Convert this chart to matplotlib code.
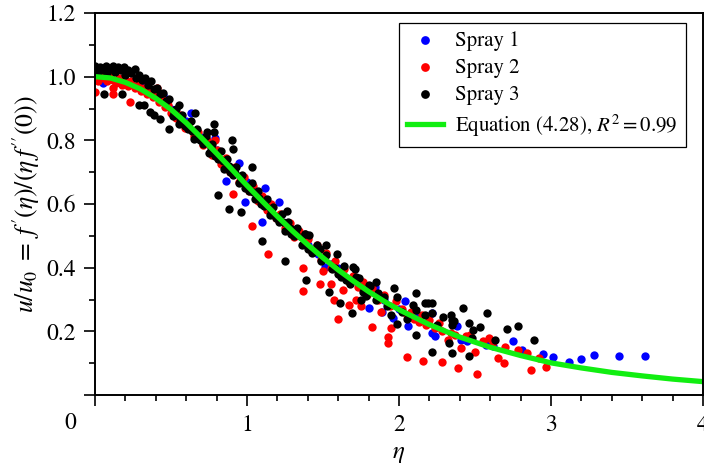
import matplotlib
matplotlib.use('Agg')
import matplotlib.pyplot as plt

plt.rcParams['font.family'] = ['STIXGeneral', 'DejaVu Serif']
plt.rcParams['mathtext.fontset'] = 'stix'

# fitted curve, Equation (4.28)
fit_eta = [0.0, 0.1, 0.2, 0.3, 0.4, 0.5, 0.6, 0.7, 0.8, 0.9, 1.0, 1.1, 1.2, 1.3, 1.4,
           1.5, 1.6, 1.7, 1.8, 1.9, 2.0, 2.2, 2.4, 2.6, 2.8, 3.0, 3.2, 3.4, 3.6, 3.8, 4.0]
fit_u = [1.0, 0.996, 0.982, 0.961, 0.932, 0.897, 0.855, 0.808, 0.759, 0.709, 0.658,
         0.609, 0.561, 0.515, 0.472, 0.431, 0.393, 0.358, 0.325, 0.295, 0.268, 0.221,
         0.182, 0.150, 0.124, 0.101, 0.085, 0.071, 0.060, 0.050, 0.042]

# Spray 1
blue_eta = [0.05, 0.45, 0.63, 0.79, 0.95, 0.86, 1.12, 1.21, 0.99, 1.10, 1.47, 1.51, 1.84,
            1.80, 1.89, 1.96, 2.06, 2.04, 2.12, 2.22, 2.24, 2.38, 2.57, 2.62, 2.75, 2.81,
            2.45, 2.41, 2.22, 2.95, 3.01, 3.12, 3.20, 3.28, 3.45, 3.62,
            0.10, 0.20, 0.30, 0.40, 0.50, 0.60, 0.70, 0.80, 0.90, 1.00, 1.05, 1.15, 1.25,
            1.30, 1.35, 1.40, 1.55, 1.60, 1.70, 1.75, 1.90, 2.00]
blue_u = [0.981, 0.943, 0.887, 0.808, 0.728, 0.673, 0.651, 0.607, 0.607, 0.544, 0.443,
          0.403, 0.340, 0.274, 0.261, 0.242, 0.217, 0.294, 0.252, 0.258, 0.186, 0.217,
          0.157, 0.154, 0.170, 0.140, 0.170, 0.173, 0.195, 0.129, 0.119, 0.104, 0.113,
          0.126, 0.123, 0.123,
          1.0, 0.99, 0.97, 0.95, 0.90, 0.86, 0.81, 0.77, 0.71, 0.67, 0.64, 0.59, 0.54,
          0.51, 0.50, 0.47, 0.41, 0.40, 0.36, 0.34, 0.30, 0.27]

# Spray 2
red_eta = [0.00, 0.02, 0.04, 0.06, 0.08, 0.10, 0.12, 0.14, 0.16, 0.18, 0.20, 0.22, 0.24,
           0.26, 0.28, 0.30, 0.32, 0.34, 0.36, 0.38, 0.40, 0.42, 0.44, 0.46, 0.48, 0.50,
           0.53, 0.56, 0.59, 0.62, 0.65, 0.68, 0.71, 0.74, 0.77, 0.80, 0.83, 0.86, 0.89,
           0.92, 0.95, 0.98, 1.01, 1.04, 1.07, 1.10, 1.13, 1.16, 1.19, 1.22, 1.25, 1.28,
           1.31, 1.34, 1.37, 1.40, 1.43, 1.46, 1.49, 1.52, 1.55, 1.58, 1.61, 1.64, 1.67,
           1.70, 1.73, 1.76, 1.79, 1.82, 1.86, 1.90, 1.94, 1.98,
           0.00, 0.12, 0.12, 0.23, 0.41, 0.79, 0.91, 1.03, 1.14, 1.37, 1.37, 1.60, 1.82,
           1.95, 1.93, 1.93, 1.48, 1.57, 1.67, 2.05, 2.16, 2.28, 2.39, 2.51, 2.69, 2.87,
           2.97, 2.92, 2.84, 2.78, 2.70, 2.65, 2.59, 2.50, 2.41, 2.32, 2.34,
           2.02, 2.05, 2.08, 2.10, 2.13, 2.15, 2.18, 2.20, 2.24, 2.26, 2.28, 2.37, 2.44,
           2.47, 2.55, 2.62, 1.50, 1.63, 1.75, 1.88, 1.72, 1.55]
red_u = [1.000, 0.985, 1.010, 0.995, 0.985, 1.005, 0.990, 0.980, 0.995, 0.975, 0.990,
         0.970, 0.985, 0.965, 0.975, 0.955, 0.965, 0.945, 0.955, 0.935, 0.940, 0.920,
         0.930, 0.905, 0.910, 0.885, 0.870, 0.880, 0.840, 0.855, 0.815, 0.825, 0.785,
         0.800, 0.755, 0.770, 0.725, 0.745, 0.700, 0.715, 0.670, 0.685, 0.640, 0.655,
         0.610, 0.625, 0.580, 0.600, 0.555, 0.570, 0.525, 0.540, 0.495, 0.515, 0.475,
         0.490, 0.450, 0.470, 0.425, 0.445, 0.400, 0.420, 0.380, 0.395, 0.355, 0.375,
         0.340, 0.355, 0.315, 0.335, 0.300, 0.315, 0.280, 0.295,
         0.953, 0.947, 0.965, 0.921, 0.965, 0.800, 0.632, 0.531, 0.443, 0.400, 0.327,
         0.239, 0.214, 0.211, 0.182, 0.164, 0.349, 0.299, 0.283, 0.119, 0.107, 0.104,
         0.085, 0.066, 0.100, 0.079, 0.088, 0.116, 0.132, 0.142, 0.151, 0.116, 0.179,
         0.135, 0.148, 0.173, 0.195,
         0.270, 0.250, 0.260, 0.240, 0.230, 0.250, 0.220, 0.235, 0.210, 0.225, 0.200,
         0.190, 0.185, 0.190, 0.170, 0.165, 0.390, 0.330, 0.280, 0.260, 0.300, 0.350]

# Spray 3
black_eta = [0.00, 0.02, 0.03, 0.05, 0.07, 0.08, 0.10, 0.12, 0.13, 0.15, 0.17, 0.19, 0.20,
             0.22, 0.24, 0.26, 0.27, 0.29, 0.31, 0.33, 0.35, 0.37, 0.39, 0.41, 0.43, 0.45,
             0.47, 0.49,
             0.51, 0.53, 0.55, 0.57, 0.59, 0.61, 0.63, 0.65, 0.67, 0.69, 0.71, 0.73, 0.75,
             0.77, 0.79, 0.81, 0.83, 0.85, 0.87, 0.89, 0.91, 0.93, 0.95, 0.97, 0.99, 1.01,
             1.03, 1.05, 1.07, 1.09, 1.11, 1.13, 1.15, 1.17, 1.19, 1.21, 1.23, 1.25, 1.27,
             1.29, 1.31, 1.33, 1.36, 1.38, 1.40, 1.43, 1.46, 1.49, 1.52, 1.56, 1.60, 1.64,
             1.68, 1.72, 1.76, 1.80, 1.85,
             0.52, 0.56, 0.60, 0.64, 0.68, 0.72, 0.76, 0.80, 0.84, 0.88, 0.92, 0.96, 1.00,
             1.04, 1.08, 1.12, 1.16, 1.20, 1.24, 1.28, 1.32,
             0.06, 0.18, 0.29, 0.32, 0.36, 0.39, 0.43, 0.49, 0.55, 0.66, 0.74, 0.78, 0.78,
             0.90, 0.91, 1.03, 0.81, 0.88, 0.96, 1.10, 1.25, 1.26, 1.38, 1.41, 1.39, 1.54,
             1.59, 1.70, 1.71, 1.74, 1.85, 1.81, 1.86, 1.99, 1.97, 2.11, 2.09, 2.17, 2.22,
             2.42, 2.29, 2.35, 2.46, 2.53, 2.58, 1.99, 2.11, 1.69, 1.61, 1.90, 2.19, 2.11,
             2.17, 2.22, 2.34, 2.36, 2.35, 2.49, 2.48, 2.63, 2.71, 2.78, 2.89, 2.22, 2.35,
             2.33, 2.46, 1.48, 1.52, 1.65, 1.75, 1.92, 2.02, 2.05, 2.25, 1.58, 1.62, 1.78,
             1.95]
black_u = [1.035, 1.015, 1.030, 1.020, 1.035, 1.010, 1.025, 1.035, 1.015, 1.030, 1.020,
           1.030, 1.005, 1.020, 1.010, 1.025, 0.995, 1.005, 0.990, 0.995, 0.975, 0.985,
           0.960, 0.965, 0.945, 0.950, 0.925, 0.930,
           0.875, 0.900, 0.850, 0.880, 0.845, 0.835, 0.860, 0.805, 0.835, 0.800, 0.790,
           0.815, 0.760, 0.790, 0.750, 0.740, 0.765, 0.710, 0.740, 0.700, 0.690, 0.715,
           0.665, 0.690, 0.650, 0.640, 0.665, 0.615, 0.640, 0.600, 0.595, 0.615, 0.565,
           0.590, 0.555, 0.545, 0.570, 0.515, 0.545, 0.505, 0.500, 0.525, 0.470, 0.505,
           0.460, 0.445, 0.470, 0.420, 0.440, 0.395, 0.380, 0.405, 0.350, 0.370, 0.325,
           0.345, 0.300,
           0.885, 0.868, 0.850, 0.830, 0.812, 0.795, 0.775, 0.755, 0.735, 0.718, 0.697,
           0.676, 0.657, 0.637, 0.618, 0.598, 0.580, 0.560, 0.542, 0.524, 0.506,
           0.947, 0.947, 0.912, 0.910, 0.890, 0.880, 0.868, 0.836, 0.912, 0.887, 0.827,
           0.852, 0.827, 0.800, 0.774, 0.717, 0.629, 0.585, 0.575, 0.484, 0.421, 0.579,
           0.506, 0.503, 0.362, 0.324, 0.443, 0.403, 0.395, 0.368, 0.355, 0.343, 0.321,
           0.308, 0.336, 0.321, 0.283, 0.290, 0.290, 0.274, 0.245, 0.236, 0.226, 0.214,
           0.258, 0.223, 0.189, 0.258, 0.289, 0.308, 0.290, 0.267, 0.252, 0.258, 0.252,
           0.233, 0.220, 0.204, 0.179, 0.173, 0.208, 0.217, 0.173, 0.135, 0.132, 0.164,
           0.123, 0.460, 0.470, 0.360, 0.300, 0.280, 0.260, 0.240, 0.220, 0.400, 0.370,
           0.310, 0.250]

fig = plt.figure(figsize=(7.04, 4.66), dpi=100)
ax = fig.add_axes([95 / 704, 71 / 466, 608 / 704, 382 / 466])

ms = 36
ax.scatter(blue_eta, blue_u, s=ms, color='#0000ff', lw=0, label='Spray 1')
ax.scatter(red_eta, red_u, s=ms, color='#ff0000', lw=0, label='Spray 2')
ax.scatter(black_eta, black_u, s=ms, color='black', lw=0, label='Spray 3')
ax.plot(fit_eta, fit_u, color='#11ee11', lw=3.8,
        label=r'Equation (4.28), $R^2 = 0.99$')

ax.set_xlim(0, 4)
ax.set_ylim(0, 1.2)
ax.set_xticks([0, 1, 2, 3, 4])
ax.set_xticklabels(['', '1', '2', '3', '4'])
ax.set_xticks([0.2 * i for i in range(21)], minor=True)
ax.set_yticks([0, 0.2, 0.4, 0.6, 0.8, 1.0, 1.2])
ax.set_yticklabels(['', '0.2', '0.4', '0.6', '0.8', '1.0', '1.2'])
ax.set_yticks([0.1 * i for i in range(13)], minor=True)
ax.tick_params(which='major', direction='out', length=8, width=1.2,
               labelsize=17, pad=6)
ax.tick_params(which='minor', direction='out', length=4, width=1.2)
for sp in ax.spines.values():
    sp.set_linewidth(1.4)
ax.text(-0.041, -0.074, '0', transform=ax.transAxes, ha='center', va='center',
        fontsize=17)

ax.set_xlabel(r'$\eta$', fontsize=18, labelpad=4)
ax.set_ylabel(r"$u/u_0\;=\;f\,'(\eta)/(\eta\, f\,''(0))$", fontsize=18.5, labelpad=3)

leg = ax.legend(loc='upper right', bbox_to_anchor=(0.972, 0.975), borderaxespad=0,
                fontsize=15, fancybox=False, edgecolor='black', framealpha=1,
                handlelength=1.7, handletextpad=0.6, borderpad=0.4, labelspacing=0.35,
                markerscale=1.05)
leg.get_frame().set_linewidth(0.9)

fig.savefig('out.png', dpi=100)
